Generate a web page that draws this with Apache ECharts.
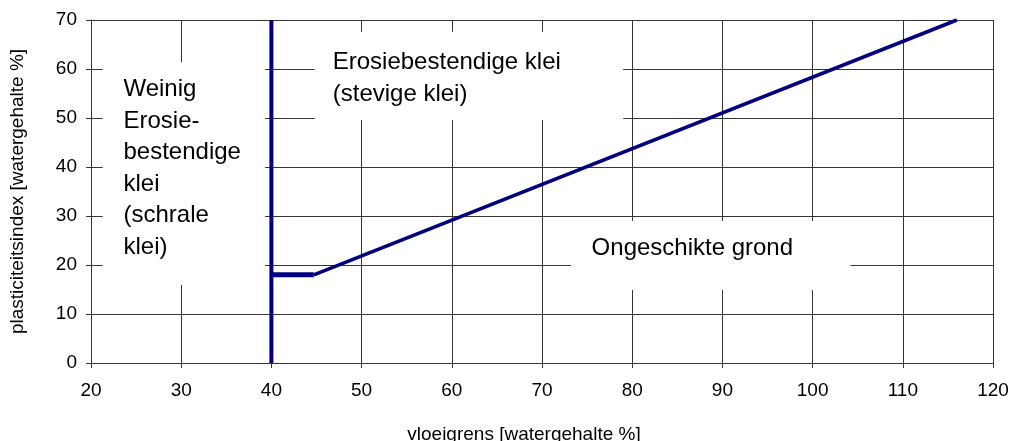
<!DOCTYPE html>
<html>
<head>
<meta charset="utf-8">
<script src="https://cdn.jsdelivr.net/npm/echarts@6/dist/echarts.min.js"></script>
<style>
html,body{margin:0;padding:0;background:#fff;}
#chart{width:1012px;height:441px;}
</style>
</head>
<body>
<div id="chart"></div>
<script>
// ---- data ----
const xAxisName = 'vloeigrens [watergehalte %]';
const yAxisName = 'plasticiteitsindex [watergehalte %]';
const xMin = 20, xMax = 120, xStep = 10;
const yMin = 0, yMax = 70, yStep = 10;

// boundary at liquid limit 40
const boundaryX = [40, 40];
const boundaryY = [0, 70];
// short step at PI 18
const stepX = [40, 44.7];
const stepY = [18, 18];
// A-line
const aLineX = [44.7, 116];
const aLineY = [18, 70];

// zone labels
const zoneLabels = [
  'Weinig\nErosie-\nbestendige\nklei\n(schrale\nklei)',
  'Erosiebestendige klei\n(stevige klei)',
  'Ongeschikte grond'
];

// ---- layout (annotation placement, in data units) ----
const zoneAnchors = [[23.6, 39.7], [46.8, 58.0], [75.5, 23.3]];
const zoneBoxes = [
  [[21.3, 61.4], [39.3, 15.9]],
  [[44.8, 67.6], [79.0, 49.6]],
  [[73.2, 29.0], [104.2, 14.9]]
];
const zoneLineHeights = [31.5, 32, 32];

const pairs = (xs, ys) => xs.map((x, i) => [x, ys[i]]);
const navy = '#000080';
const gridColor = '#363636';
const font = '"Liberation Sans", Arial, sans-serif';

const chart = echarts.init(document.getElementById('chart'), null, {renderer: 'canvas'});
chart.setOption({
  animation: false,
  backgroundColor: '#fff',
  grid: {left: 91, right: 19, top: 20, bottom: 78, containLabel: false, outerBoundsMode: 'none'},
  xAxis: {
    type: 'value', min: xMin, max: xMax, interval: xStep,
    name: xAxisName, nameLocation: 'middle', nameGap: 62,
    nameTextStyle: {fontFamily: font, fontSize: 19, color: '#000', padding: [0, 36, 0, 0]},
    axisLine: {show: true, lineStyle: {color: gridColor, width: 1}},
    axisTick: {show: true, length: 5, lineStyle: {color: gridColor}},
    axisLabel: {fontFamily: font, fontSize: 19, color: '#000', margin: 18},
    splitLine: {show: true, lineStyle: {color: gridColor, width: 1}}
  },
  yAxis: {
    type: 'value', min: yMin, max: yMax, interval: yStep,
    name: yAxisName, nameLocation: 'middle', nameGap: 64, nameRotate: 90,
    nameTextStyle: {fontFamily: font, fontSize: 19, color: '#000'},
    axisLine: {show: true, lineStyle: {color: gridColor, width: 1}},
    axisTick: {show: true, length: 5, lineStyle: {color: gridColor}},
    axisLabel: {fontFamily: font, fontSize: 19, color: '#000', margin: 14},
    splitLine: {show: true, lineStyle: {color: gridColor, width: 1}}
  },
  series: [
    {
      type: 'scatter', z: 2, symbolSize: 0, silent: true,
      itemStyle: {opacity: 1},
      data: zoneLabels.map((t, i) => ({
        value: zoneAnchors[i],
        label: {
          show: true, position: 'right', distance: 0,
          formatter: t, align: 'left', verticalAlign: 'middle',
          fontFamily: font, fontSize: 24, color: '#000',
          lineHeight: zoneLineHeights[i]
        }
      })),
      markArea: {
        silent: true,
        itemStyle: {color: '#ffffff', opacity: 1, borderWidth: 0},
        label: {show: false},
        data: zoneBoxes.map(b => [{coord: b[0]}, {coord: b[1]}])
      }
    },
    {
      type: 'line', z: 5, symbol: 'none', silent: true,
      data: pairs(boundaryX, boundaryY),
      lineStyle: {color: navy, width: 4}
    },
    {
      type: 'line', z: 5, symbol: 'none', silent: true,
      data: pairs(stepX, stepY),
      lineStyle: {color: navy, width: 5}
    },
    {
      type: 'line', z: 5, symbol: 'none', silent: true,
      data: pairs(aLineX, aLineY),
      lineStyle: {color: navy, width: 3.5}
    }
  ]
});
</script>
</body>
</html>
